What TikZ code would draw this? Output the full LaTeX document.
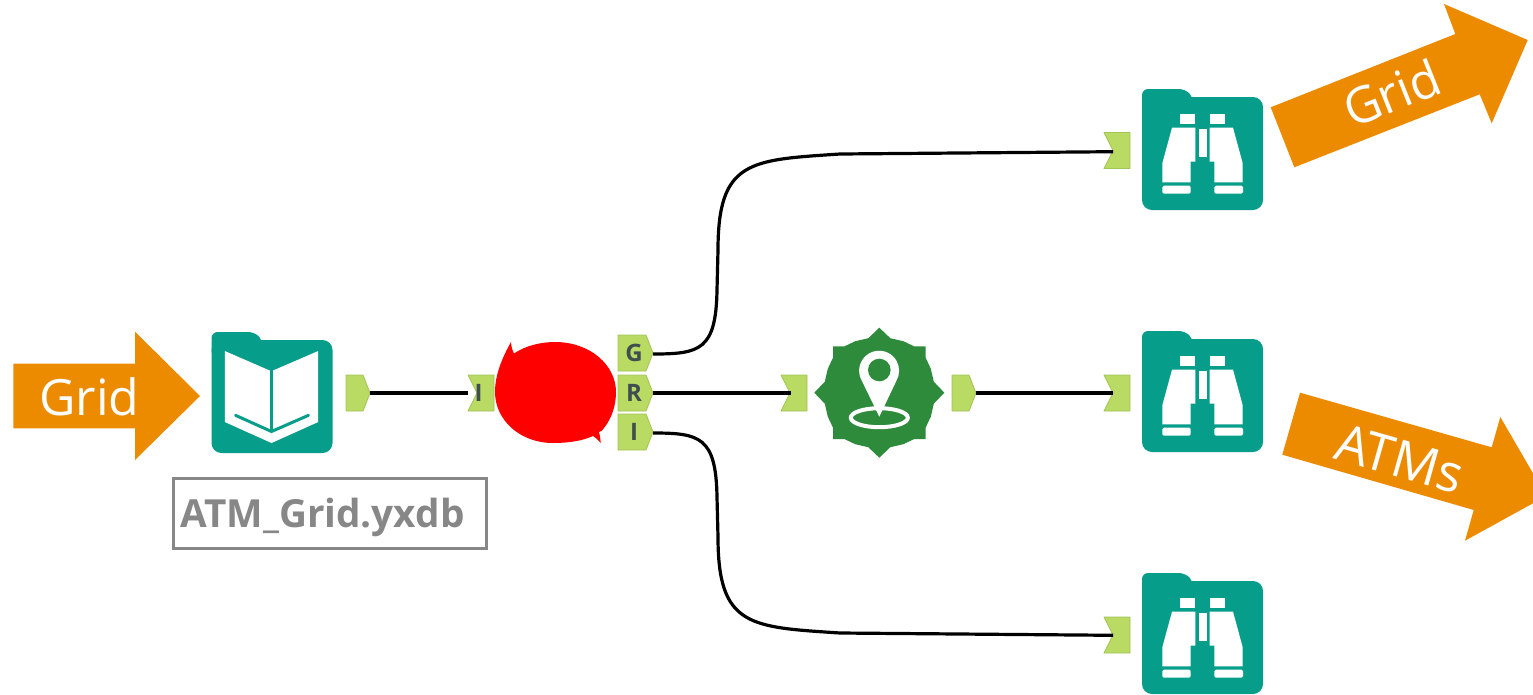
\documentclass[tikz,border=0pt]{standalone}
\usepackage{fontspec}
\setmainfont{Open Sans}
\definecolor{orangeA}{HTML}{ED8B00}
\definecolor{tealA}{HTML}{069E8A}
\definecolor{greenA}{HTML}{2E8B3C}
\definecolor{portA}{HTML}{B9DA63}
\definecolor{portE}{HTML}{A3C455}
\definecolor{letterA}{HTML}{3F4F4F}
\definecolor{greyA}{HTML}{878787}
\tikzset{
  arrowshape/.style={fill=orangeA,draw=none},
  arrowtext/.style={text=white,inner sep=0pt,font=\fontsize{50}{50}\selectfont},
  portshape/.style={fill=portA,draw=portE,line width=0.8pt,line join=round},
  portletter/.style={text=letterA,inner sep=0pt,font=\bfseries\fontsize{24}{24}\selectfont},
  wire/.style={draw=black,line width=3.2pt},
  inport/.pic={\path[portshape] (-13,-18) -- (13,-18) -- (13,18) -- (-13,18) -- (-4,0) -- cycle;},
  outport/.pic={\path[portshape] (0,-18) -- (17,-18) -- (24,0) -- (17,18) -- (0,18) -- cycle;},
  bigport/.pic={\path[portshape] (0,-18) -- (28,-18) -- (35,0) -- (28,18) -- (0,18) -- cycle;},
  folder/.pic={
    \fill[tealA,rounded corners=10pt] (0,8) rectangle (121,121);
    \fill[tealA,rounded corners=6pt] (0,25) -- (0,0) -- (43,0) -- (51,8) -- (51,25) -- cycle;
  },
  binoc/.pic={
    \pic at (0,0) {folder};
    \fill[white] (37.7,25) rectangle (53.3,35.3);
    \fill[white] (67.7,25) rectangle (83.3,35.3);
    \fill[white] (56.7,40.3) rectangle (64.7,67.7);
    \fill[white] (30,38.7) -- (53.3,38.7) -- (53.3,72.7) -- (48.7,72.7) -- (48.7,93.3) -- (20.3,93.3) -- (20.3,74.3) -- cycle;
    \fill[white] (91,38.7) -- (67.7,38.7) -- (67.7,72.7) -- (72.3,72.7) -- (72.3,93.3) -- (100.7,93.3) -- (100.7,74.3) -- cycle;
    \fill[white,rounded corners=1.5pt] (20.3,96.7) rectangle (48.7,104.7);
    \fill[white,rounded corners=1.5pt] (72.3,96.7) rectangle (101,104.7);
  },
  bookicon/.pic={
    \pic at (0,0) {folder};
    \fill[white] (13.3,19) -- (57.7,38.3) -- (62,38.3) -- (106.7,19) -- (106.7,90) -- (60,111) -- (13.3,90) -- cycle;
    \draw[tealA,line width=3pt] (60,38) -- (60,99);
    \draw[tealA,line width=3pt,line cap=round] (24,83.3) -- (60,99.5) -- (97,83.3);
  }
}
\begin{document}
\begin{tikzpicture}[x=1pt,y=-1pt]
\useasboundingbox (0,0) rectangle (1533,694);
\clip (0,0) rectangle (1533,694);
\fill[white] (0,0) rectangle (1533,694);

% orange arrows
\fill[arrowshape] (13.3,363.7) -- (135,363.7) -- (135,331.7) -- (200,396) -- (135,460) -- (135,428.3) -- (13.3,428.3) -- cycle;
\node[arrowtext,anchor=base] (gridin) at (89.5,415) {Grid};
\fill[arrowshape] (1270.7,107.3) -- (1455.3,34) -- (1444,4) -- (1527.7,40) -- (1491.7,123.3) -- (1479.7,94.3) -- (1294.3,167.3) -- cycle;
\node[arrowtext,rotate=21.7] (gridout) at (1391.7,93) {Grid};
\fill[arrowshape] (1300,392.7) -- (1491.7,447.3) -- (1500.3,417) -- (1546.2,496) -- (1465,540.7) -- (1473.7,510) -- (1282.3,454.7) -- cycle;
\node[arrowtext,rotate=-15.9,font=\fontsize{52}{52}\selectfont] (atms) at (1400,459) {ATMs};

% wires
\coordinate (oBook) at (370,393);
\coordinate (iJoin) at (468,393);
\coordinate (oG) at (653,354);
\coordinate (oR) at (653,393);
\coordinate (oI) at (653,433);
\coordinate (iGeo) at (791,393);
\coordinate (oGeo) at (976,393);
\coordinate (iTop) at (1113,151.7);
\coordinate (iMid) at (1113,393);
\coordinate (iBot) at (1113,635.3);

% ports
\pic at (346,393) {outport};
\pic at (481,393) {inport};
\node[portletter] (lI) at (478.5,393) {I};
\pic at (618,353) {bigport};
\pic at (618,393) {bigport};
\pic at (618,432) {bigport};
\node[portletter] (lG) at (634,353) {G};
\node[portletter] (lR) at (634,393) {R};
\node[portletter] (lI2) at (634,432) {I};
\pic at (794,393) {inport};
\pic at (952,393) {outport};
\pic at (1117,150.5) {inport};
\pic at (1117,393) {inport};
\pic at (1117,635) {inport};

\draw[wire] (oBook) -- (iJoin);
\draw[wire] (oR) -- (iGeo);
\draw[wire] (oGeo) -- (iMid);
\draw[wire] (oG) .. controls (700,354) and (716,350) .. (717,290) -- (718,250)
  .. controls (718,160) and (750,160) .. (840,154) -- (iTop);
\draw[wire] (oI) .. controls (700,433) and (716,437) .. (717,497) -- (718,537)
  .. controls (718,627) and (750,627) .. (840,633) -- (iBot);

% icons
\pic at (211.5,332) {bookicon};
\pic at (1142,89) {binoc};
\pic at (1142,331) {binoc};
\pic at (1142,573) {binoc};

% label
\draw[greyA,line width=3pt] (173.5,478.5) rectangle (486,548.5);
\node[anchor=base west,inner sep=0pt,text=greyA,font=\bfseries\fontsize{38.7}{38.7}\selectfont] (lbl) at (180,527) {ATM\_Grid.yxdb};

% red blob
\fill[red] (511,342) .. controls (511.5,348) and (512.5,351) .. (514,353.5)
  .. controls (525,346) and (540,342) .. (555,342)
  .. controls (590,342) and (616,365) .. (616,392)
  .. controls (616,405) and (612,418) .. (604,428)
  .. controls (602,431) and (600.5,431.5) .. (599,432)
  .. controls (600,436) and (600.5,440) .. (600.7,443)
  .. controls (597,439) and (595,437) .. (593,436)
  .. controls (582,441) and (568,443) .. (553,443)
  .. controls (520,443) and (495,420) .. (495,392)
  .. controls (495,375) and (502,358) .. (511,342) -- cycle;

% geo icon
\begin{scope}[shift={(879.3,392.7)}]
  \fill[greenA] (0,-65) -- (11,-54.5) -- (24,-51.5) -- (35,-46.3) -- (46.3,-46.3)
    -- (46.3,-35) -- (51.5,-24) -- (54.5,-11) -- (65,0)
    -- (54.5,11) -- (51.5,24) -- (46.3,35) -- (46.3,46.3)
    -- (35,46.3) -- (24,51.5) -- (11,54.5) -- (0,65)
    -- (-11,54.5) -- (-24,51.5) -- (-35,46.3) -- (-46.3,46.3)
    -- (-46.3,35) -- (-51.5,24) -- (-54.5,11) -- (-65,0)
    -- (-54.5,-11) -- (-51.5,-24) -- (-46.3,-35) -- (-46.3,-46.3)
    -- (-35,-46.3) -- (-24,-51.5) -- (-11,-54.5) -- cycle;
  \draw[white,line width=4pt] (0,25) ellipse[x radius=28.5pt,y radius=9.5pt];
  \fill[white] (0,24) -- (-17.5,-12) arc[start angle=210,end angle=-30,radius=20pt] -- cycle;
  \fill[greenA] (0,-22.7) circle[radius=11.3pt];
\end{scope}
\end{tikzpicture}
\end{document}
